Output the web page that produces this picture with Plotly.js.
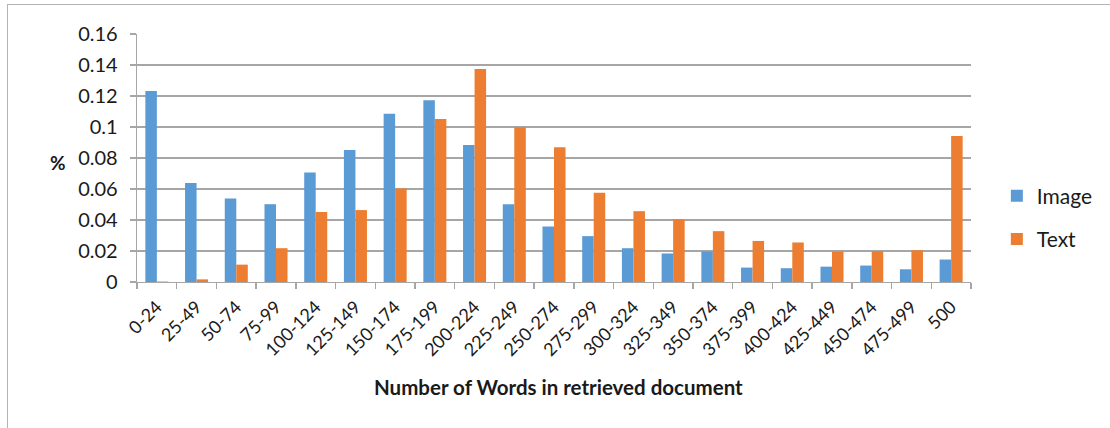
<!DOCTYPE html>
<html>
<head>
<meta charset="utf-8">
<script src="https://cdn.plot.ly/plotly-3.0.1.min.js"></script>
<style>
  html, body { margin: 0; padding: 0; background: #ffffff; }
  #wrap { position: relative; width: 1110px; height: 428px; overflow: hidden; }
  #chart { position: absolute; left: 0; top: 0; width: 1110px; height: 428px; }
  #frame { position: absolute; left: 7px; top: 4px; width: 1200px; height: 500px;
           border-left: 1.5px solid #b4b4b4; border-top: 1.5px solid #b4b4b4;
           pointer-events: none; }
</style>
</head>
<body>
<div id="wrap">
  <div id="chart"></div>
  <div id="frame"></div>
</div>
<script>
// Word-count bins of retrieved documents
var categories = ['0-24', '25-49', '50-74', '75-99', '100-124', '125-149', '150-174',
  '175-199', '200-224', '225-249', '250-274', '275-299', '300-324', '325-349',
  '350-374', '375-399', '400-424', '425-449', '450-474', '475-499', '500'];

// Share of documents per bin
var imageValues = [0.1233, 0.0638, 0.0539, 0.0502, 0.0707, 0.0852, 0.1085,
  0.1173, 0.0884, 0.0502, 0.0358, 0.0296, 0.0218, 0.0184,
  0.0197, 0.0093, 0.0089, 0.0099, 0.0106, 0.0082, 0.0145];
var textValues = [0.0003, 0.0017, 0.0112, 0.0218, 0.0451, 0.0464, 0.0604,
  0.1052, 0.1374, 0.0999, 0.0869, 0.0576, 0.0457, 0.0405,
  0.0328, 0.0265, 0.0255, 0.0196, 0.0199, 0.0205, 0.0942];

// Y axis ticks
var yTickVals = [0, 0.02, 0.04, 0.06, 0.08, 0.1, 0.12, 0.14, 0.16];
var yTickText = ['0', '0.02', '0.04', '0.06', '0.08', '0.1', '0.12', '0.14', '0.16'];

var FONT = 'Lato, "Open Sans", sans-serif';

var traces = [
  {
    type: 'bar', name: 'Image', x: categories, y: imageValues,
    marker: { color: '#5b9bd5' }, legendgroup: 'image', hoverinfo: 'x+y'
  },
  {
    type: 'bar', name: 'Text', x: categories, y: textValues,
    marker: { color: '#ed7d31' }, legendgroup: 'text', hoverinfo: 'x+y'
  }
];

var layout = {
  width: 1110, height: 428,
  margin: { l: 137, r: 131, t: 34, b: 146, pad: 0 },
  paper_bgcolor: 'rgba(0,0,0,0)', plot_bgcolor: '#ffffff',
  font: { family: FONT, size: 18, color: '#1a1a1a' },
  barmode: 'group', bargap: 0.42, bargroupgap: 0,
  xaxis: {
    type: 'category',
    showline: true, linecolor: '#a6a6a6', linewidth: 1.3,
    ticks: 'outside', tickson: 'boundaries', ticklen: 6, tickcolor: '#a6a6a6', tickwidth: 1.3,
    tickangle: -45, showgrid: false, ticklabelstandoff: 6,
    tickfont: { family: FONT, size: 18, color: '#1a1a1a' }
  },
  yaxis: {
    range: [0, 0.16], tickvals: yTickVals, ticktext: yTickText,
    showline: true, linecolor: '#a6a6a6', linewidth: 1.3,
    ticks: 'outside', ticklen: 6, tickcolor: '#a6a6a6', tickwidth: 1.3,
    showgrid: true, gridcolor: '#a6a6a6', gridwidth: 1.3,
    zeroline: false, ticklabelstandoff: 8,
    tickfont: { family: FONT, size: 20, color: '#1a1a1a' }
  },
  legend: {
    x: 1.031, xanchor: 'left', y: 0.26, yanchor: 'middle',
    traceorder: 'grouped', tracegroupgap: 13,
    font: { family: FONT, size: 21, color: '#1a1a1a' },
    bgcolor: 'rgba(0,0,0,0)'
  },
  annotations: [
    {
      text: '<b>%</b>', xref: 'paper', yref: 'paper',
      x: (57 - 137) / 842, y: (281.7 - 162) / 247.4, xanchor: 'center', yanchor: 'middle',
      showarrow: false, font: { family: FONT, size: 19, color: '#1a1a1a' }
    },
    {
      text: '<b>Number of Words in retrieved document</b>', xref: 'paper', yref: 'paper',
      x: (563 - 137) / 842, y: -(386 - 281.7) / 247.4, xanchor: 'center', yanchor: 'middle',
      showarrow: false, font: { family: FONT, size: 20.5, color: '#1a1a1a' }
    }
  ]
};

Plotly.newPlot('chart', traces, layout, { displayModeBar: false, staticPlot: true });
</script>
</body>
</html>
